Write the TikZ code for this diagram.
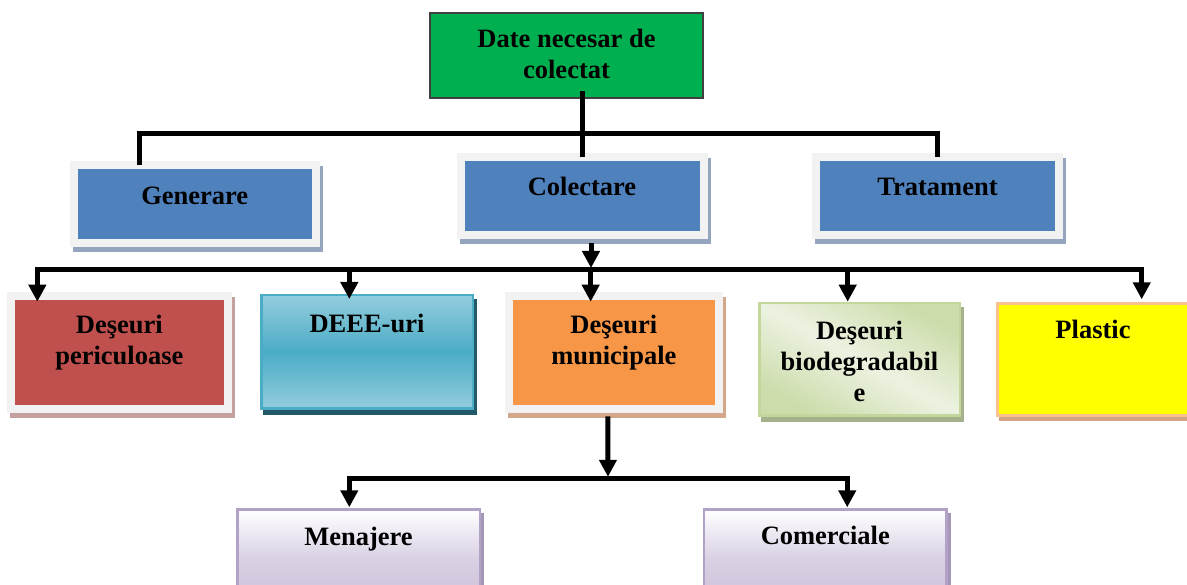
\documentclass[tikz,border=0pt]{standalone}
\usepackage{fontspec}
\setmainfont{Liberation Serif}
\usepackage{tikz}
\usetikzlibrary{arrows.meta, shadows}
\definecolor{topgreen}{RGB}{0, 176, 80}
\definecolor{topline}{RGB}{64, 64, 64}
\definecolor{framegray}{RGB}{242, 242, 242}
\definecolor{boxblue}{RGB}{79, 129, 189}
\definecolor{blueshadow}{RGB}{149, 165, 190}
\definecolor{boxred}{RGB}{192, 80, 77}
\definecolor{redshadow}{RGB}{196, 160, 158}
\definecolor{boxorange}{RGB}{247, 150, 70}
\definecolor{orangeshadow}{RGB}{211, 168, 138}
\definecolor{tealdark}{RGB}{75, 172, 198}
\definecolor{teallight}{RGB}{147, 205, 221}
\definecolor{tealshadow}{RGB}{33, 89, 104}
\definecolor{biodark}{RGB}{204, 220, 170}
\definecolor{bioline}{RGB}{195, 214, 155}
\definecolor{biolight}{RGB}{236, 242, 225}
\definecolor{bioshadow}{RGB}{165, 177, 141}
\definecolor{plasyellow}{RGB}{255, 255, 0}
\definecolor{plasline}{RGB}{250, 192, 144}
\definecolor{plasshadow}{RGB}{212, 162, 129}
\definecolor{lilac}{RGB}{204, 192, 218}
\definecolor{lilacline}{RGB}{179, 162, 199}
\definecolor{lilacshadow}{RGB}{165, 151, 184}

\begin{document}
\begin{tikzpicture}[x=1pt, y=-1pt,
    txt/.style={font=\fontsize{26.5}{31}\selectfont\bfseries, align=center,
      inner sep=0pt, outer sep=0pt, anchor=north west},
    framebox/.style 2 args={txt, fill=#1, draw=framegray, line width=8pt,
      general shadow={fill=#2, draw=#2, line width=8pt, shadow xshift=3pt, shadow yshift=-5pt}},
    thinbox/.style={txt, line width=2.5pt,
      general shadow={fill=#1, draw=#1, line width=2.5pt, shadow xshift=3pt, shadow yshift=-5pt}},
    link/.style={line width=5pt},
    flow/.style={line width=5pt, -{Triangle[width=17pt, length=17pt]}}]

  \useasboundingbox (0, 0) rectangle (1187, 585);
  \clip (0, 0) rectangle (1187, 585);

  % top
  \node[txt, fill=topgreen, draw=topline, line width=1.5pt, minimum width=273pt,
    text height=66pt, text depth=19pt] (top) at (430, 13) {Date necesar de\\colectat};

  % second row
  \node[framebox={boxblue}{blueshadow}, minimum width=242.5pt,
    text height=40pt, text depth=38.5pt] (gen) at (73.5, 165) {Generare};
  \node[framebox={boxblue}{blueshadow}, minimum width=243pt,
    text height=39pt, text depth=39.3pt] (col) at (460.5, 157) {Colectare};
  \node[framebox={boxblue}{blueshadow}, minimum width=242.4pt,
    text height=39.3pt, text depth=39.3pt] (trat) at (816.3, 156.7) {Tratament};

  % third row
  \node[framebox={boxred}{redshadow}, minimum width=216.7pt,
    text height=68.6pt, text depth=44.7pt] (per) at (11, 295.7) {Deşeuri\\periculoase};
  \node[thinbox=tealshadow, draw=tealdark, top color=teallight, bottom color=teallight,
    middle color=tealdark, minimum width=211.5pt,
    text height=37pt, text depth=76.5pt] (deee) at (261.25, 295.25) {DEEE-uri};
  \node[framebox={boxorange}{orangeshadow}, minimum width=209.7pt,
    text height=69.3pt, text depth=44.3pt] (mun) at (509, 295.7) {Deşeuri\\municipale};
  \node[thinbox=bioshadow, draw=bioline, top color=biodark, bottom color=biodark,
    middle color=biolight, shading angle=331, minimum width=200.5pt,
    text height=98.3pt, text depth=14.2pt] (bio) at (759.25, 303) {Deşeuri\\biodegradabil\\e};
  \node[thinbox=plasshadow, fill=plasyellow, draw=plasline, line width=3pt, minimum width=191pt,
    text height=35pt, text depth=76.4pt] (pla) at (997.5, 303.8) {Plastic};

  % fourth row
  \node[thinbox=lilacshadow, draw=lilacline, top color=white, bottom color=lilac,
    middle color=lilac!75!white, minimum width=242.5pt,
    text height=35.5pt, text depth=64.5pt] (men) at (237.25, 509.5) {Menajere};
  \node[thinbox=lilacshadow, draw=lilacline, top color=white, bottom color=lilac,
    middle color=lilac!75!white, minimum width=242.5pt,
    text height=34.5pt, text depth=65.5pt] (com) at (704, 509.5) {Comerciale};

  % connectors
  \coordinate (hub1) at (582, 134);
  \draw[link] ([yshift=7pt]top.south -| col.north) -- (col.north);
  \draw[link] ([xshift=-55pt]gen.north) |- (hub1) -| (trat.north);

  \coordinate (bus2) at (591, 270);
  \draw[flow] ([xshift=9pt, yshift=-8pt]col.south) -- ([yshift=2pt]bus2);
  \coordinate (t1) at ([xshift=-82pt, yshift=-6pt]per.north);
  \coordinate (t2) at ([xshift=-17.7pt, yshift=-3.75pt]deee.north);
  \coordinate (t3) at ([xshift=-23.2pt, yshift=-6pt]mun.north);
  \coordinate (t4) at ([xshift=-11.8pt, yshift=1.3pt]bio.north);
  \coordinate (t5) at ([xshift=48.7pt, yshift=4.5pt]pla.north);
  \draw[link, line cap=rect] (t1 |- bus2) -- (t5 |- bus2);
  \foreach \t in {t1, t2, t3, t4, t5}
    \draw[flow] (\t |- bus2) -- (\t);

  \coordinate (bus3) at (608, 478.3);
  \draw[flow] ([xshift=-6pt, yshift=-7pt]mun.south) -- ([yshift=1.5pt]bus3);
  \coordinate (t6) at ([xshift=-9.2pt, yshift=2.2pt]men.north);
  \coordinate (t7) at ([xshift=22pt, yshift=2.2pt]com.north);
  \draw[link, line cap=rect] (t6 |- bus3) -- (t7 |- bus3);
  \foreach \t in {t6, t7}
    \draw[flow] (\t |- bus3) -- (\t);

\end{tikzpicture}
\end{document}
